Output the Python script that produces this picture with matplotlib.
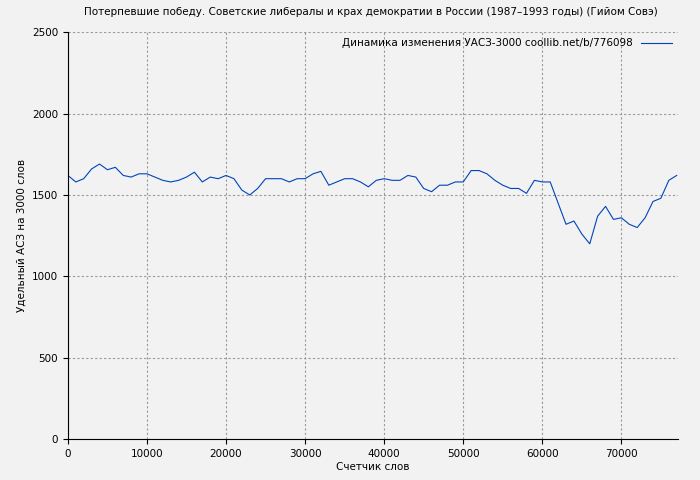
import matplotlib
matplotlib.use("Agg")
import matplotlib.pyplot as plt

# words counter (step 1000) and specific value per 3000 words
words = [i * 1000 for i in range(78)]
values = [1620, 1580, 1600, 1660, 1690, 1655, 1670, 1620, 1610, 1630,
          1630, 1610, 1590, 1580, 1590, 1610, 1640, 1580, 1610, 1600,
          1620, 1600, 1530, 1500, 1540, 1600, 1600, 1600, 1580, 1600,
          1600, 1630, 1645, 1560, 1580, 1600, 1600, 1580, 1550, 1590,
          1600, 1590, 1590, 1620, 1610, 1540, 1520, 1560, 1560, 1580,
          1580, 1650, 1650, 1630, 1590, 1560, 1540, 1540, 1510, 1590,
          1580, 1580, 1450, 1320, 1340, 1260, 1200, 1370, 1430, 1350,
          1360, 1320, 1300, 1360, 1460, 1480, 1590, 1620]

title = "Потерпевшие победу. Советские либералы и крах демократии в России (1987–1993 годы) (Гийом Совэ)"
legend_label = "Динамика изменения УАСЗ-3000 coollib.net/b/776098"

fs = 7.5
fig = plt.figure(figsize=(7, 4.8), dpi=100, facecolor="#f2f2f2")
ax = fig.add_axes([0.097, 0.085, 0.872, 0.848])
ax.set_facecolor("#f2f2f2")
ax.plot(words, values, color="#0044bb", linewidth=0.8, label=legend_label)
ax.set_xlim(0, 77200)
ax.set_ylim(0, 2500)
ax.set_xticks(range(0, 80000, 10000))
ax.set_yticks(range(0, 2501, 500))
ax.grid(color="#999999", linestyle=(0, (2, 2)), linewidth=0.8)
for s in ["top", "right"]:
    ax.spines[s].set_visible(False)
ax.tick_params(labelsize=fs)
fig.suptitle(title, fontsize=fs, x=0.53, y=0.985)
ax.set_xlabel("Счетчик слов", fontsize=fs, labelpad=2)
ax.set_ylabel("Удельный АСЗ на 3000 слов", fontsize=fs)
ax.legend(loc="upper right", frameon=False, fontsize=fs, handlelength=3,
          markerfirst=False, borderaxespad=0.2)
fig.savefig("out.png", facecolor=fig.get_facecolor())
